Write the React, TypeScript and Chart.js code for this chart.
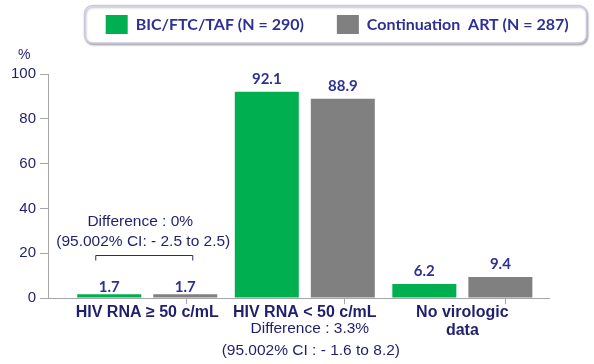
import { useEffect, useRef } from 'react';
import { Chart, registerables } from 'chart.js';

Chart.register(...registerables);

const CATEGORIES: (string | string[])[] = ['HIV RNA ≥ 50 c/mL', 'HIV RNA < 50 c/mL', ['No virologic', 'data']];
const SERIES_NAMES = ['BIC/FTC/TAF (N = 290)', 'Continuation  ART (N = 287)'];
const BIC_VALUES = [1.7, 92.1, 6.2];
const CONT_VALUES = [1.7, 88.9, 9.4];
const Y_TICKS = [0, 20, 40, 60, 80, 100];
const Y_UNIT = '%';
const DIFF_NOTE_LOW = ['Difference : 0%', '(95.002% CI: - 2.5 to 2.5)'];
const DIFF_NOTE_MID = ['Difference : 3.3%', '(95.002% CI : - 1.6 to 8.2)'];

const GREEN = '#00b050';
const GREY = '#808080';
const NAVY = '#1f1f6e';
const PURPLE = '#2e3192';
const AXIS_GREY = '#a6a6a6';
const ARIAL = "'Liberation Sans', Arial, sans-serif";

const X_MIN = -0.63;
const X_MAX = 2.55;
const X_TICKS = [X_MIN, 0, 0.5, 1, 1.5, 2, X_MAX];

const legendFrame = {
  id: 'legendFrame',
  afterLayout(chart: any) {
    const lg = chart.legend;
    if (lg) {
      lg.left = 72.7;
      lg.right = 800;
    }
    const tb = chart.titleBlock;
    if (tb) {
      tb.left = 18;
    }
  },
  beforeDraw(chart: any) {
    const ctx = chart.ctx;
    ctx.save();
    ctx.shadowColor = 'rgba(0,0,0,0.3)';
    ctx.shadowBlur = 2;
    ctx.shadowOffsetX = 1;
    ctx.shadowOffsetY = 1.5;
    ctx.strokeStyle = '#c9c9e6';
    ctx.lineWidth = 1.5;
    ctx.fillStyle = '#ffffff';
    ctx.beginPath();
    ctx.roundRect(84.5, 5.5, 502, 37.5, 8);
    ctx.fill();
    ctx.stroke();
    ctx.restore();
  },
};

const annotations = {
  id: 'annotations',
  afterDatasetsDraw(chart: any) {
    const ctx = chart.ctx;
    const xs = chart.scales.x;
    const area = chart.chartArea;
    ctx.save();
    // value labels
    ctx.font = `bold 15px Lato, ${ARIAL}`;
    ctx.fillStyle = PURPLE;
    ctx.textAlign = 'center';
    ctx.textBaseline = 'middle';
    chart.data.datasets.forEach((ds: any, di: number) => {
      const meta = chart.getDatasetMeta(di);
      meta.data.forEach((bar: any, i: number) => {
        const v = ds.data[i].y;
        const off = i === 0 ? 7 : 13;
        ctx.fillText(v.toFixed(1), bar.x, bar.y - off);
      });
    });
    // difference notes
    ctx.fillStyle = NAVY;
    ctx.font = `15.5px ${ARIAL}`;
    const c0 = xs.getPixelForValue(0);
    ctx.fillText(DIFF_NOTE_LOW[0], c0 - 7, area.bottom - 76);
    ctx.fillText(DIFF_NOTE_LOW[1], c0 - 4, area.bottom - 56.5);
    ctx.strokeStyle = '#2a2a7a';
    ctx.lineWidth = 1;
    ctx.beginPath();
    ctx.moveTo(c0 - 51.5, area.bottom - 37.5);
    ctx.lineTo(c0 - 51.5, area.bottom - 42.5);
    ctx.lineTo(c0 + 45.5, area.bottom - 42.5);
    ctx.lineTo(c0 + 45.5, area.bottom - 37.5);
    ctx.stroke();
    const c1 = xs.getPixelForValue(1);
    ctx.fillText(DIFF_NOTE_MID[0], c1 + 5, area.bottom + 30.5);
    ctx.fillText(DIFF_NOTE_MID[1], c1 + 6, area.bottom + 53);
    ctx.restore();
  },
};

export default function App() {
  const ref = useRef<HTMLCanvasElement>(null);
  useEffect(() => {
    if (!ref.current) return;
    const chart = new Chart(ref.current, {
      type: 'bar',
      data: {
        datasets: [
          {
            label: SERIES_NAMES[0],
            data: BIC_VALUES.map((v, i) => ({ x: i, y: v })),
            backgroundColor: GREEN,
            borderWidth: 0,
          },
          {
            label: SERIES_NAMES[1],
            data: CONT_VALUES.map((v, i) => ({ x: i, y: v })),
            backgroundColor: GREY,
            borderWidth: 0,
          },
        ],
      },
      options: {
        animation: false,
        responsive: false,
        devicePixelRatio: 1,
        categoryPercentage: 1.93,
        barPercentage: 0.842,
        layout: { padding: { top: -18, left: 0, right: 45, bottom: 0 } },
        plugins: {
          legend: {
            display: true,
            position: 'top',
            align: 'start',
            labels: {
              boxWidth: 22,
              boxHeight: 19,
              padding: 33,
              color: PURPLE,
              font: { family: 'Lato', size: 16, weight: 'bold' },
            },
          },
          title: {
            display: true,
            text: Y_UNIT,
            align: 'start',
            position: 'top',
            weight: 500,
            color: NAVY,
            font: { family: ARIAL, size: 14, weight: 'normal', lineHeight: 1.2 },
            padding: { top: 3, bottom: 10.2 },
          },
          tooltip: { enabled: false },
        },
        scales: {
          x: {
            type: 'linear',
            min: X_MIN,
            max: X_MAX,
            offset: false,
            afterBuildTicks: (scale: any) => {
              scale.ticks = X_TICKS.map((v) => ({ value: v }));
            },
            afterFit: (scale: any) => {
              scale.height = 66;
            },
            grid: {
              drawOnChartArea: false,
              drawTicks: true,
              tickLength: 6,
              tickColor: (ctx: any) => (Number.isInteger(ctx.tick?.value) ? 'rgba(0,0,0,0)' : AXIS_GREY),
            },
            border: { display: true, color: AXIS_GREY, width: 1 },
            ticks: {
              autoSkip: false,
              maxRotation: 0,
              padding: -1,
              color: NAVY,
              font: { family: ARIAL, size: 16, weight: 'bold', lineHeight: 1.15 },
              callback: (value: any) => (Number.isInteger(value) ? CATEGORIES[value] : ''),
            },
          },
          y: {
            min: 0,
            max: 100,
            afterBuildTicks: (scale: any) => {
              scale.ticks = Y_TICKS.map((v) => ({ value: v }));
            },
            afterFit: (scale: any) => {
              scale.width = 48;
            },
            grid: {
              drawOnChartArea: false,
              drawTicks: true,
              tickLength: 8,
              tickColor: AXIS_GREY,
            },
            border: { display: true, color: AXIS_GREY, width: 1 },
            ticks: {
              padding: 4,
              color: NAVY,
              font: { family: ARIAL, size: 15 },
            },
          },
        },
      },
      plugins: [legendFrame, annotations],
    } as any);
    return () => chart.destroy();
  }, []);
  return (
    <div style={{ position: 'fixed', left: 0, top: 0, width: 594, height: 364, background: '#fff' }}>
      <canvas ref={ref} width={594} height={364} style={{ display: 'block' }} />
    </div>
  );
}
